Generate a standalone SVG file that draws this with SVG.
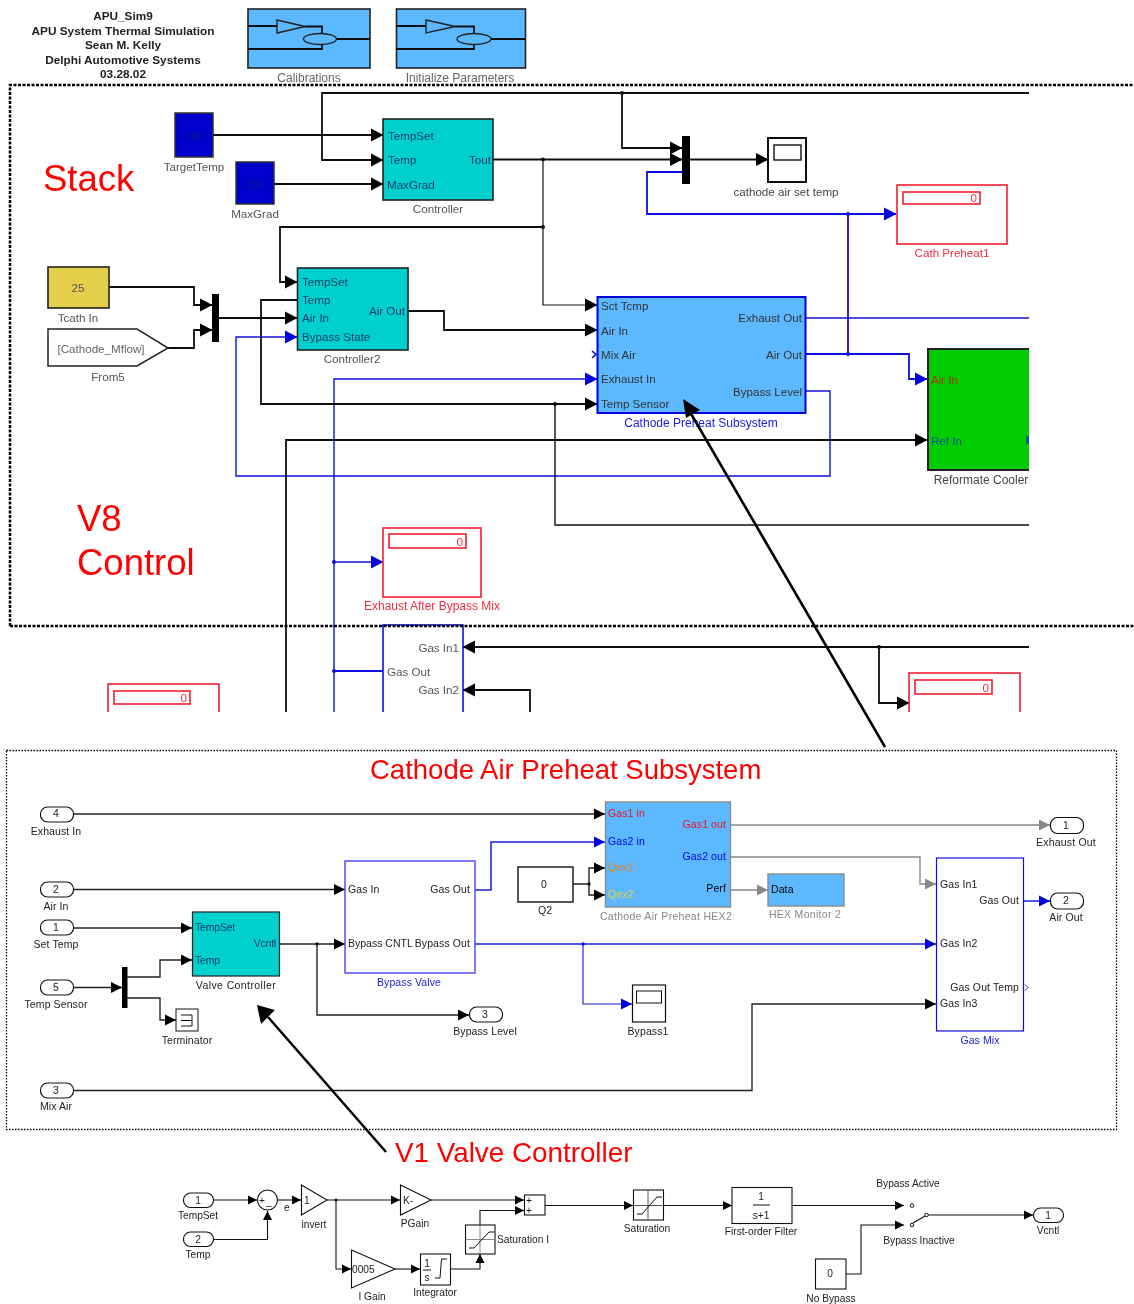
<svg xmlns="http://www.w3.org/2000/svg" width="1134" height="1304" viewBox="0 0 1134 1304">
<style>
text{font-family:"Liberation Sans",Arial,sans-serif;fill:#222}
.t{font-size:11.600px}.m{font-size:10.500px;letter-spacing:.1px}.s{font-size:10.200px}
.c{text-anchor:middle}.r{text-anchor:end}
.red{fill:#f00}.pink{fill:#f03040}.blu{fill:#2020e0}.gry{fill:#888}
.dk{fill:#004060}
.big{fill:#f00}
.w{fill:none;stroke:#111;stroke-width:1.8}
.wb{fill:none;stroke:#1010dd;stroke-width:1.8}
.wm{fill:none;stroke:#222;stroke-width:1.4}
.wmb{fill:none;stroke:#1818e0;stroke-width:1.5}
.wg{fill:none;stroke:#888;stroke-width:1.4}
.ws{fill:none;stroke:#111;stroke-width:1.1}
.box{fill:#fff;stroke:#111;stroke-width:1.4}
.teal{fill:#00cfcf;stroke:#222;stroke-width:1.6}
.sky{fill:#5cb8ff;stroke:#222;stroke-width:1.6}
.rb{fill:#fff;stroke:#f02030;stroke-width:1.6}
.pill{fill:#fff;stroke:#111;stroke-width:1.2}
.mux{fill:#000}
.d{fill:#111}.du{fill:#1010dd}
</style>
<defs>
<filter id="soft" filterUnits="userSpaceOnUse" x="0" y="0" width="1134" height="1304"><feGaussianBlur stdDeviation="0.45"/></filter>
<filter id="soft2" filterUnits="userSpaceOnUse" x="0" y="0" width="1134" height="1304"><feGaussianBlur stdDeviation="0.25"/></filter>
<clipPath id="topclip"><rect x="0" y="0" width="1029" height="712"/></clipPath>
<marker id="a" markerUnits="userSpaceOnUse" markerWidth="13" markerHeight="14" refX="12" refY="7" orient="auto"><path d="M0 .5L12.500 7L0 13.500z" fill="#000"/></marker>
<marker id="au" markerUnits="userSpaceOnUse" markerWidth="13" markerHeight="14" refX="12" refY="7" orient="auto"><path d="M0 .5L12.500 7L0 13.500z" fill="#0000dd"/></marker>
<marker id="am" markerUnits="userSpaceOnUse" markerWidth="11" markerHeight="12" refX="11" refY="6" orient="auto"><path d="M0 .5L11 6L0 11.500z" fill="#000"/></marker>
<marker id="amu" markerUnits="userSpaceOnUse" markerWidth="11" markerHeight="12" refX="11" refY="6" orient="auto"><path d="M0 .5L11 6L0 11.500z" fill="#0000dd"/></marker>
<marker id="amg" markerUnits="userSpaceOnUse" markerWidth="11" markerHeight="12" refX="11" refY="6" orient="auto"><path d="M0 .5L11 6L0 11.500z" fill="#888"/></marker>
<marker id="as" markerUnits="userSpaceOnUse" markerWidth="9" markerHeight="10" refX="9" refY="5" orient="auto"><path d="M0 .5L9 5L0 9.500z" fill="#000"/></marker>
</defs>

<g id="top-section" filter="url(#soft)">
<g id="title">
<text class="c" font-size="11.800" x="123" y="20" font-weight="bold">APU_Sim9</text>
<text class="c" font-size="11.800" x="123" y="35" font-weight="bold">APU System Thermal Simulation</text>
<text class="c" font-size="11.800" x="123" y="49" font-weight="bold">Sean M. Kelly</text>
<text class="c" font-size="11.800" x="123" y="64" font-weight="bold">Delphi Automotive Systems</text>
<text class="c" font-size="11.800" x="123" y="78" font-weight="bold">03.28.02</text>
</g>
<g id="calibrations">
<rect class="sky" x="248" y="9" width="122" height="59"/>
<path class="w" d="M248 26H277M305 26.500H322V33M337 39H370M248 49H322V44"/>
<path class="wm" d="M277 20L305 26.500L277 33z"/><ellipse class="wm" cx="320" cy="39" rx="16.500" ry="5.500"/>
<text class="c" font-size="12" style="fill:#666" x="309" y="82">Calibrations</text>
</g>
<g id="initialize-parameters">
<rect class="sky" x="396.500" y="9" width="129" height="59"/>
<path class="w" d="M396 26H426M455 26.500H474V33M491 39H525M396 49H474V44"/>
<path class="wm" d="M426 20L455 26.500L426 33z"/><ellipse class="wm" cx="474" cy="39" rx="17" ry="5.500"/>
<text class="c" font-size="12" style="fill:#666" x="460" y="82">Initialize Parameters</text>
</g>
<g id="top-clipped" clip-path="url(#topclip)">
<g id="connectors-top">
<path class="w" d="M1029 93H322V160H383" marker-end="url(#a)"/>
<path class="w" d="M213 135H383" marker-end="url(#a)"/>
<path class="w" d="M274 184H383" marker-end="url(#a)"/>
<path class="w" d="M622 93V148H682" marker-end="url(#a)"/>
<path class="w" d="M493 159.500H682" marker-end="url(#a)"/>
<path class="w" d="M690 159.500H768" marker-end="url(#a)"/>
<path class="w" style="stroke-width:1.2" d="M543 159.500V305H597" marker-end="url(#a)"/>
<path class="w" d="M543 227H280V282H297" marker-end="url(#a)"/>
<path class="wb" d="M682 172H647V214H896" marker-end="url(#au)"/>
<path class="wb" d="M848 214V354"/>
<path class="wb" d="M806 354H909V379H927" marker-end="url(#au)"/>
<path class="wb" style="stroke-width:1.4" d="M806 318H1029"/>
<path class="wb" style="stroke-width:1.4" d="M806 391H830V476H236V337H297" marker-end="url(#au)"/>
<path class="w" d="M286 712V440H927" marker-end="url(#a)"/>
<path class="w" d="M109 287H194V305H212" marker-end="url(#a)"/>
<path class="w" d="M168 348H194V330H212" marker-end="url(#a)"/>
<path class="w" d="M219 318H297" marker-end="url(#a)"/>
<path class="w" d="M408 311H444V330H597" marker-end="url(#a)"/>
<path class="wb" style="stroke-width:1.4" d="M334 712V379H597" marker-end="url(#au)"/>
<path class="w" d="M297 300H261V404H597" marker-end="url(#a)"/>
<path class="w" style="stroke-width:1.4" d="M555 404V525H1029"/>
<path class="wb" style="stroke-width:1.4" d="M334 562H383" marker-end="url(#au)"/>
<path class="wb" d="M334 671H383"/>
<path class="w" d="M1029 647H463" marker-end="url(#a)"/>
<path class="w" d="M530 712V690H463" marker-end="url(#a)"/>
<path class="w" d="M879 647V703H909" marker-end="url(#a)"/>
<circle class="d" cx="622" cy="93" r="2"/><circle class="d" cx="543" cy="159.500" r="2"/><circle class="d" cx="543" cy="227" r="2"/><circle class="d" cx="555" cy="404" r="2"/><circle class="d" cx="879" cy="647" r="2"/>
<circle class="du" cx="848" cy="214" r="2"/><circle class="du" cx="848" cy="354" r="2"/><circle class="du" cx="334" cy="562" r="2"/><circle class="du" cx="334" cy="671" r="2"/>
</g>
<g id="targettemp"><rect x="175" y="113" width="38" height="44" fill="#0000cc" stroke="#333" stroke-width="1.5"/><text class="t c" style="fill:#002080" x="194" y="140">750</text><text class="t c" style="fill:#555" x="194" y="171">TargetTemp</text></g>
<g id="maxgrad"><rect x="236" y="162" width="38" height="42" fill="#0000cc" stroke="#333" stroke-width="1.5"/><text class="t c" style="fill:#002080" x="255" y="189">225</text><text class="t c" style="fill:#555" x="255" y="218">MaxGrad</text></g>
<g id="controller"><rect class="teal" x="383" y="119" width="110" height="81"/>
<text class="t dk" x="388" y="140">TempSet</text><text class="t dk" x="388" y="164">Temp</text><text class="t dk" x="387" y="189">MaxGrad</text><text class="t r dk" x="491" y="164">Tout</text><text class="t c" style="fill:#555" x="438" y="213">Controller</text></g>
<g id="mux-stack"><rect class="mux" x="682" y="136" width="8" height="48"/></g>
<g id="scope-set-temp"><rect class="box" x="768" y="138" width="38" height="44" style="stroke-width:2"/><rect class="box" x="774" y="145" width="27" height="15"/><text class="t c" style="fill:#444" x="786" y="196">cathode air set temp</text></g>
<g id="cath-preheat1"><rect class="rb" x="897" y="185" width="110" height="59"/><rect class="rb" x="903" y="192" width="77" height="12"/><text class="t r pink" x="977" y="202">0</text><text class="t c pink" x="952" y="257">Cath Preheat1</text></g>
<g id="tcath-in"><rect x="48" y="267" width="61" height="41" fill="#e6d04c" stroke="#222" stroke-width="1.6"/><text class="t c" style="fill:#555" x="78" y="292">25</text><text class="t c" style="fill:#555" x="78" y="322">Tcath In</text></g>
<g id="from5"><path d="M48 329H137L168 348L137 366H48z" fill="#fff" stroke="#222" stroke-width="1.5"/><text class="t c" style="fill:#666" x="101" y="353">[Cathode_Mflow]</text><text class="t c" style="fill:#555" x="108" y="381">From5</text></g>
<g id="mux-air"><rect class="mux" x="212" y="294" width="7" height="48"/></g>
<g id="controller2"><rect class="teal" x="297.500" y="268" width="110.500" height="82"/>
<text class="t dk" x="302" y="286">TempSet</text><text class="t dk" x="302" y="304">Temp</text><text class="t dk" x="302" y="322">Air In</text><text class="t dk" x="302" y="341">Bypass State</text><text class="t r dk" x="405" y="315">Air Out</text><text class="t c" style="fill:#555" x="352" y="363">Controller2</text></g>
<g id="cathode-preheat-subsystem"><rect x="597.500" y="297" width="208" height="116" fill="#5cb8ff" stroke="#0000dd" stroke-width="2"/>
<text class="t" x="601" y="310" style="fill:#333">Sct Tcmp</text><text class="t" x="601" y="335" style="fill:#333">Air In</text><text class="t" x="601" y="359" style="fill:#333">Mix Air</text><text class="t" x="601" y="383" style="fill:#333">Exhaust In</text><text class="t" x="601" y="408" style="fill:#333">Temp Sensor</text>
<text class="t r" x="802" y="322" style="fill:#333">Exhaust Out</text><text class="t r" x="802" y="359" style="fill:#333">Air Out</text><text class="t r" x="802" y="396" style="fill:#333">Bypass Level</text>
<path d="M592 351L596 354.500L592 358" fill="none" stroke="#0000dd" stroke-width="1.500"/>
<text class="c blu" font-size="12" x="701" y="427">Cathode Preheat Subsystem</text></g>
<g id="reformate-cooler"><rect x="928" y="349" width="120" height="121" fill="#00cc00" stroke="#222" stroke-width="2"/>
<text class="t" style="fill:#b03000" x="931" y="384">Air In</text><text class="t" style="fill:#0050a0" x="931" y="445">Ref In</text><rect x="1026" y="436" width="3" height="8" fill="#0060a0"/>
<text class="c" font-size="12" style="fill:#444" x="981" y="484">Reformate Cooler</text></g>
<g id="exhaust-after-bypass-mix"><rect class="rb" x="383" y="528" width="98" height="69"/><rect class="rb" x="389" y="534" width="77" height="14"/><text class="t r pink" x="463" y="546">0</text><text class="c pink" font-size="12" x="432" y="610">Exhaust After Bypass Mix</text></g>
<g id="gas-mix-top"><rect x="383" y="625" width="80" height="100" fill="#fff" stroke="#1010dd" stroke-width="1.6"/><text class="t r" style="fill:#555" x="459" y="652">Gas In1</text><text class="t" style="fill:#555" x="387" y="676">Gas Out</text><text class="t r" style="fill:#555" x="459" y="694">Gas In2</text></g>
<g id="display-left"><rect class="rb" x="108" y="684" width="111" height="50"/><rect class="rb" x="114" y="691" width="76" height="13"/><text class="t r pink" x="187" y="702">0</text></g>
<g id="display-right"><rect class="rb" x="909" y="673" width="111" height="60"/><rect class="rb" x="915" y="680" width="77" height="14"/><text class="t r pink" x="989" y="692">0</text></g>
</g>
<g id="annotations-top">
<text class="big" x="43" y="191" font-size="36.500">Stack</text>
<text class="big" x="77" y="531" font-size="36.500">V8</text>
<text class="big" x="77" y="575" font-size="36.500">Control</text>
<path d="M10 626V85H1134M10 626H1134" fill="none" stroke="#000" stroke-width="2.500" stroke-dasharray="3 1.500"/>
</g>
</g>

<g id="pointer-cathode"><path d="M885 747L690 412" fill="none" stroke="#000" stroke-width="2.500"/><path d="M683 399L700 410L686 418z" fill="#000"/></g>

<g id="middle-section" filter="url(#soft2)">
<rect id="subsystem-frame" x="6.500" y="750.500" width="1110" height="379" fill="none" stroke="#000" stroke-width="1.300" stroke-dasharray="1.500 1.500"/>
<text id="subsystem-title" class="big" x="370" y="779" font-size="27.500">Cathode Air Preheat Subsystem</text>
<g id="connectors-middle">
<path class="wm" d="M73 814H605" marker-end="url(#am)"/>
<path class="wm" d="M73 889.500H345" marker-end="url(#am)"/>
<path class="wm" d="M73 928H192" marker-end="url(#am)"/>
<path class="wm" d="M73 987.500H122" marker-end="url(#am)"/>
<path class="wm" d="M127 977H160V960H192" marker-end="url(#am)"/>
<path class="wm" d="M127 998H160V1020H176" marker-end="url(#am)"/>
<path class="wm" d="M73 1090.500H752V1004H936" marker-end="url(#am)"/>
<path class="wm" d="M279 944H345" marker-end="url(#am)"/>
<path class="wm" d="M317 944V1015H469" marker-end="url(#am)"/>
<path class="wmb" d="M475 890H491V842H605" marker-end="url(#amu)"/>
<path class="wmb" d="M475 944H936" marker-end="url(#amu)"/>
<path class="wmb" style="stroke-width:1.100" d="M583 944V1004H632" marker-end="url(#amu)"/>
<path class="wm" d="M573 884H589V868H605" marker-end="url(#am)"/>
<path class="wm" d="M589 884V895H605" marker-end="url(#am)"/>
<path class="wg" d="M730 825H1050" marker-end="url(#amg)"/>
<path class="wg" d="M730 857H920V884H936" marker-end="url(#amg)"/>
<path class="wg" d="M730 890H768" marker-end="url(#amg)"/>
<path class="wmb" d="M1023 901H1050" marker-end="url(#amu)"/>
<circle class="d" cx="317" cy="944" r="1.700"/><circle class="d" cx="589" cy="884" r="1.700"/><circle class="du" cx="583" cy="944" r="1.700"/>
</g>
<g id="in-exhaust"><rect class="pill" x="40.500" y="807" width="33" height="15" rx="7"/><text class="m c" x="56" y="817">4</text><text class="m c" x="56" y="835">Exhaust In</text></g>
<g id="in-air"><rect class="pill" x="40.500" y="882" width="33" height="15" rx="7"/><text class="m c" x="56" y="893">2</text><text class="m c" x="56" y="910">Air In</text></g>
<g id="in-settemp"><rect class="pill" x="40.500" y="920" width="33" height="15" rx="7"/><text class="m c" x="56" y="931">1</text><text class="m c" x="56" y="948">Set Temp</text></g>
<g id="in-tempsensor"><rect class="pill" x="40.500" y="980" width="33" height="15" rx="7"/><text class="m c" x="56" y="991">5</text><text class="m c" x="56" y="1008">Temp Sensor</text></g>
<g id="in-mixair"><rect class="pill" x="40.500" y="1083" width="33" height="15" rx="7"/><text class="m c" x="56" y="1094">3</text><text class="m c" x="56" y="1110">Mix Air</text></g>
<g id="mux-sensor"><rect class="mux" x="122" y="967" width="5.500" height="41"/></g>
<g id="terminator"><rect class="box" x="176" y="1009" width="22" height="22" style="stroke-width:1"/><path d="M181 1015H192V1026H181M181 1020.500H192" fill="none" stroke="#111"/><text class="m c" x="187" y="1044">Terminator</text></g>
<g id="valve-controller"><rect class="teal" x="192.500" y="912" width="87" height="64" style="stroke-width:1.200"/><text class="m dk" style="letter-spacing:-.2px" x="195" y="931">TempSet</text><text class="m dk" style="letter-spacing:-.2px" x="195" y="964">Temp</text><text class="m r dk" style="letter-spacing:-.2px" x="276" y="947">Vcntl</text><text class="m c" style="letter-spacing:.4px" x="236" y="989">Valve Controller</text></g>
<g id="bypass-valve"><rect x="345" y="861" width="130" height="112" fill="#fff" stroke="#4444ee" stroke-width="1.400"/><text class="m" x="348" y="893">Gas In</text><text class="m r" x="470" y="893">Gas Out</text><text class="m" style="letter-spacing:0" x="348" y="947">Bypass CNTL</text><text class="m r" x="470" y="947">Bypass Out</text><text class="m c blu" x="409" y="986">Bypass Valve</text></g>
<g id="out-bypass-level"><rect class="pill" x="469.500" y="1007" width="33" height="15" rx="7"/><text class="m c" x="485" y="1018">3</text><text class="m c" x="485" y="1035">Bypass Level</text></g>
<g id="q2"><rect class="box" x="518" y="867" width="55" height="35"/><text class="m c" x="544" y="888">0</text><text class="m c" x="545" y="914">Q2</text></g>
<g id="hex2"><rect x="605.500" y="802" width="125" height="105" fill="#5cb8ff" stroke="#8a8a8a" stroke-width="1.400"/>
<text class="m" style="fill:#f01020" x="608" y="817">Gas1 in</text><text class="m" style="fill:#0000e0" x="608" y="845">Gas2 in</text><text class="m" style="fill:#f08020" x="608" y="871">Qex1</text><text class="m" style="fill:#e8d040" x="608" y="898">Qex2</text>
<text class="m r" style="fill:#f01020" x="726" y="828">Gas1 out</text><text class="m r" style="fill:#0000e0" x="726" y="860">Gas2 out</text><text class="m r" style="fill:#000" x="726" y="892">Perf</text><text class="m c gry" style="letter-spacing:.3px" x="666" y="920">Cathode Air Preheat HEX2</text></g>
<g id="hex-monitor"><rect x="768" y="874" width="76" height="32" fill="#5cb8ff" stroke="#8a8a8a" stroke-width="1.400"/><text class="m" style="fill:#000" x="771" y="893">Data</text><text class="m c gry" style="letter-spacing:.3px" x="805" y="918">HEX Monitor 2</text></g>
<g id="bypass1"><rect class="box" x="632.500" y="985" width="33" height="37" style="stroke-width:1.200"/><rect class="box" x="636.500" y="991" width="25" height="12" style="stroke-width:1"/><text class="m c" x="648" y="1035">Bypass1</text></g>
<g id="gas-mix"><rect x="936.500" y="858" width="87" height="173" fill="#fff" stroke="#1010e0" stroke-width="1.200"/><text class="m" x="940" y="888">Gas In1</text><text class="m" x="940" y="947">Gas In2</text><text class="m" x="940" y="1007">Gas In3</text><text class="m r" x="1019" y="904">Gas Out</text><text class="m r" x="1019" y="991">Gas Out Temp</text><path d="M1025 984.500L1028 987.500L1025 990.500" fill="none" stroke="#1010e0"/><text class="m c blu" x="980" y="1044">Gas Mix</text></g>
<g id="out-exhaust"><rect class="pill" x="1050.500" y="817.500" width="33" height="16" rx="7"/><text class="m c" x="1066" y="829">1</text><text class="m c" style="letter-spacing:.2px" x="1066" y="846">Exhaust Out</text></g>
<g id="out-air"><rect class="pill" x="1050.500" y="893" width="33" height="16" rx="7"/><text class="m c" x="1066" y="904">2</text><text class="m c" x="1066" y="921">Air Out</text></g>
</g>

<g id="pointer-valve"><path d="M386 1152L268 1017" fill="none" stroke="#000" stroke-width="2.500"/><path d="M257 1005L275 1010L261 1024z" fill="#000"/></g>
<text id="v1-title" class="big" x="395" y="1162" font-size="27.800">V1 Valve Controller</text>

<g id="bottom-section">
<g id="connectors-bottom">
<path class="ws" d="M213 1200H257" marker-end="url(#as)"/>
<path class="ws" d="M213 1239.500H267.500V1211" marker-end="url(#as)"/>
<path class="ws" d="M278 1200H301" marker-end="url(#as)"/>
<path class="ws" d="M327 1200H400" marker-end="url(#as)"/>
<path class="ws" d="M336 1200V1269H351" marker-end="url(#as)"/>
<path class="ws" d="M431 1200H524" marker-end="url(#as)"/>
<path class="ws" d="M395 1269H420" marker-end="url(#as)"/>
<path class="ws" d="M450 1269H480V1254" marker-end="url(#as)"/>
<path class="ws" d="M480 1225V1210.500H524" marker-end="url(#as)"/>
<path class="ws" d="M545 1205.500H633" marker-end="url(#as)"/>
<path class="ws" d="M663 1205.500H732" marker-end="url(#as)"/>
<path class="ws" d="M792 1205.500H904" marker-end="url(#as)"/>
<path class="ws" d="M846 1274H861V1225H904" marker-end="url(#as)"/>
<path class="ws" d="M928 1215H1033" marker-end="url(#as)"/>
<path class="ws" d="M913 1223L925 1216"/>
<circle class="d" cx="336" cy="1200" r="1.500"/>
</g>
<g id="in-tempset"><rect class="pill" x="183.500" y="1193" width="30" height="14.500" rx="7"/><text class="s c" x="198" y="1204">1</text><text class="s c" x="198" y="1219">TempSet</text></g>
<g id="in-temp"><rect class="pill" x="183.500" y="1232" width="30" height="14.500" rx="7"/><text class="s c" x="198" y="1243">2</text><text class="s c" x="198" y="1258">Temp</text></g>
<g id="sum-e"><circle cx="267.500" cy="1200" r="10" fill="#fff" stroke="#111" stroke-width="1.100"/><text class="s" x="259" y="1204">+</text><text class="s" x="266" y="1205">_</text><text class="s" x="284" y="1211">e</text></g>
<g id="invert"><path d="M301.500 1185L327 1200L301.500 1215z" fill="#fff" stroke="#111" stroke-width="1.100"/><text class="s" x="304" y="1204">1</text><text class="s c" x="314" y="1228">invert</text></g>
<g id="pgain"><path d="M400.500 1185L431 1200L400.500 1215z" fill="#fff" stroke="#111" stroke-width="1.100"/><text class="s" x="403" y="1204">K-</text><text class="s c" x="415" y="1227">PGain</text></g>
<g id="igain"><path d="M351.500 1250L395 1269L351.500 1288z" fill="#fff" stroke="#111" stroke-width="1.100"/><text class="s" x="352" y="1273">0005</text><text class="s c" x="372" y="1300">I Gain</text></g>
<g id="integrator"><rect class="box" x="420.500" y="1254" width="30" height="31" style="stroke-width:1.100"/><text class="s c" x="427" y="1267">1</text><path d="M423 1270H431" stroke="#111"/><text class="s c" x="427" y="1281">s</text><path d="M435 1278H440L441.500 1259H447" fill="none" stroke="#111"/><text class="s c" x="435" y="1296">Integrator</text></g>
<g id="saturation-i"><rect class="box" x="465.500" y="1225" width="29.500" height="29" style="stroke-width:1.100"/><path d="M465.500 1239.500H495M480 1225V1254" stroke="#888" fill="none"/><path d="M469 1248H474L489 1232H494" fill="none" stroke="#111"/><text class="s" x="497" y="1243">Saturation I</text></g>
<g id="sum-i"><rect class="box" x="524.500" y="1195" width="20.500" height="20" style="stroke-width:1.100"/><text class="s c" x="529" y="1204">+</text><text class="s c" x="529" y="1214">+</text></g>
<g id="saturation"><rect class="box" x="633.500" y="1190" width="30" height="30" style="stroke-width:1.100"/><path d="M633.500 1205.500H663M648 1190V1220" stroke="#555" fill="none"/><path d="M637 1214H642L657 1197H662" fill="none" stroke="#111"/><text class="s c" x="647" y="1232">Saturation</text></g>
<g id="first-order-filter"><rect class="box" x="732" y="1187.500" width="60" height="36" style="stroke-width:1.100"/><text class="s c" x="761" y="1200">1</text><path d="M753 1205H770" stroke="#111"/><text class="s c" x="761" y="1219">s+1</text><text class="s c" x="761" y="1235">First-order Filter</text></g>
<g id="bypass-switch"><circle cx="912" cy="1205.500" r="1.800" fill="#fff" stroke="#111"/><circle cx="912" cy="1225" r="1.800" fill="#fff" stroke="#111"/><circle cx="926.500" cy="1215" r="1.800" fill="#fff" stroke="#111"/><text class="s c" x="908" y="1187">Bypass Active</text><text class="s c" x="919" y="1244">Bypass Inactive</text></g>
<g id="no-bypass"><rect class="box" x="815.500" y="1259" width="30.500" height="30" style="stroke-width:1.100"/><text class="s c" x="830" y="1277">0</text><text class="s c" x="831" y="1302">No Bypass</text></g>
<g id="out-vcntl"><rect class="pill" x="1033.500" y="1208" width="30" height="14.500" rx="7"/><text class="s c" x="1048" y="1219">1</text><text class="s c" x="1048" y="1234">Vcntl</text></g>
</g>
</svg>
